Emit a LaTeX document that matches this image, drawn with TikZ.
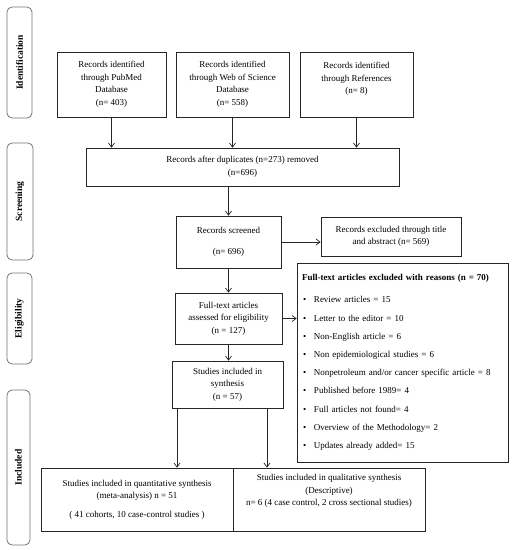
\documentclass[tikz,border=0pt]{standalone}
\usepackage{fontspec}
\setmainfont{Liberation Serif}
\usetikzlibrary{arrows.meta}
\newcommand{\bul}{\hspace*{1pt}\makebox[11pt][l]{\textbullet}}
\begin{document}
\begin{tikzpicture}[x=1pt,y=-1pt,
  box/.style={draw=black!85, line width=0.8pt, inner sep=2pt, align=center, font=\fontsize{9}{12.5}\selectfont},
  side/.style={draw=black!55, line width=0.8pt, rounded corners=5pt, rotate=90, font=\bfseries\fontsize{9.5}{11}\selectfont, inner sep=0pt},
  arr/.style={-{Straight Barb[length=4pt,width=6pt]}, draw=black!85, line width=0.7pt}]
\useasboundingbox (0,0) rectangle (513,550);
% side labels
\node[side, minimum width=111, minimum height=25] (sid) at (19.5,62.5) {Identification};
\node[side, minimum width=117, minimum height=26] (sscr) at (20,201.5) {Screening};
\node[side, minimum width=91, minimum height=25] (sel) at (19.5,318.5) {Eligibility};
\node[side, minimum width=155, minimum height=23] (sinc) at (18.5,467.5) {Included};
% boxes
\node[box, minimum width=109, minimum height=65] (pub) at (111.5,84.5) {Records identified\\through PubMed\\Database\\(n= 403)};
\node[box, minimum width=113, minimum height=65] (wos) at (232.5,84.5) {Records identified\\through Web of Science\\Database\\(n= 558)};
\node[box, minimum width=113, minimum height=65] (ref) at (356.5,84.5) {Records identified\\through References\\(n= 8)\\\mbox{}};
\node[box, minimum width=313, minimum height=38] (dup) at (242.5,167) {Records after duplicates (n=273) removed\\(n=696)};
\node[box, minimum width=105, minimum height=52] (scr) at (228.5,242) {Records screened\\[9pt](n= 696)};
\node[box, minimum width=140, minimum height=39] (exc) at (391,236.5) {Records excluded through title\\and abstract (n= 569)};
\node[box, minimum width=107, minimum height=51] (ful) at (228.5,318.5) {Full-text articles\\assessed for eligibility\\(n = 127)};
\node[box, minimum width=211, minimum height=199, align=left, text width=201, font=\fontsize{9}{18.2}\selectfont] (fex) at (402.5,362.5) {\textbf{Full-text articles excluded with reasons (n = 70)}\\[4pt]
\bul Review articles = 15\\
\bul Letter to the editor = 10\\
\bul Non-English article = 6\\
\bul Non epidemiological studies = 6\\
\bul Nonpetroleum and/or cancer specific article = 8\\
\bul Published before 1989= 4\\
\bul Full articles not found= 4\\
\bul Overview of the Methodology= 2\\
\bul Updates already added= 15};
\node[box, minimum width=111, minimum height=47] (syn) at (227.5,384.5) {Studies included in\\synthesis\\(n = 57)};
\node[box, minimum width=192, minimum height=63] (qua) at (137,499.5) {Studies included in quantitative synthesis\\(meta-analysis) n = 51\\[6pt]( 41 cohorts, 10 case-control studies )};
\node[box, minimum width=192, minimum height=63] (qal) at (329,499.5) {Studies included in qualitative synthesis\\(Descriptive)\\n= 6 (4 case control, 2 cross sectional studies)\\[6pt]\mbox{}};
% connectors
\draw[arr] (pub.south) -- (pub.south |- dup.north);
\draw[arr] (wos.south) -- (wos.south |- dup.north);
\draw[arr] (ref.south) -- (ref.south |- dup.north);
\draw[arr] (scr.north |- dup.south) -- (scr.north);
\draw[arr] (scr.east) -- (scr.east -| exc.west);
\draw[arr] (scr.south) -- (ful.north);
\draw[arr] (ful.east) -- (ful.east -| fex.west);
\draw[arr] (ful.south) -- (ful.south |- syn.north);
\draw[arr] ([xshift=-50.5pt]syn.south) -- ([xshift=-50.5pt]syn.south |- qua.north);
\draw[arr] ([xshift=39.5pt]syn.south) -- ([xshift=39.5pt]syn.south |- qal.north);
\end{tikzpicture}
\end{document}
